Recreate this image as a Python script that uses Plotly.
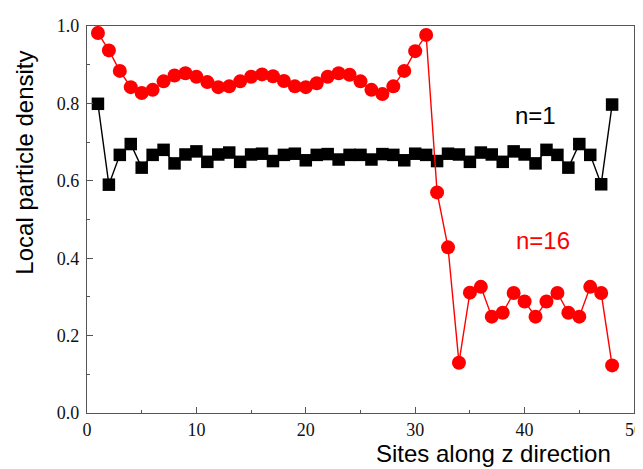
import plotly.graph_objects as go

sites = list(range(1, 49))

density_n1 = [0.799, 0.590, 0.667, 0.695, 0.634, 0.667, 0.680, 0.645, 0.668, 0.676,
              0.649, 0.668, 0.673, 0.649, 0.668, 0.670, 0.651, 0.667, 0.670, 0.653,
              0.667, 0.669, 0.655, 0.667, 0.667, 0.655, 0.669, 0.667, 0.653, 0.670,
              0.667, 0.651, 0.670, 0.668, 0.649, 0.673, 0.668, 0.649, 0.676, 0.668,
              0.645, 0.680, 0.667, 0.634, 0.695, 0.667, 0.591, 0.797]

density_n16 = [0.982, 0.937, 0.884, 0.842, 0.827, 0.835, 0.857, 0.872, 0.878, 0.869,
               0.855, 0.842, 0.844, 0.857, 0.869, 0.875, 0.870, 0.858, 0.844, 0.842,
               0.852, 0.869, 0.878, 0.874, 0.857, 0.835, 0.824, 0.844, 0.884, 0.935,
               0.977, 0.570, 0.428, 0.130, 0.311, 0.326, 0.249, 0.259, 0.310, 0.288,
               0.249, 0.288, 0.310, 0.259, 0.249, 0.326, 0.310, 0.123]

fig = go.Figure()
fig.add_trace(go.Scatter(
    x=sites, y=density_n1, mode="lines+markers", name="n=1",
    line=dict(color="black", width=1.4),
    marker=dict(symbol="square", size=12.5, color="black"),
))
fig.add_trace(go.Scatter(
    x=sites, y=density_n16, mode="lines+markers", name="n=16",
    line=dict(color="#ff0000", width=1.4),
    marker=dict(symbol="circle", size=14, color="#ff0000"),
))

axis_color = "#555555"
tick_font = dict(family="Liberation Serif", size=18, color="#111111")

fig.update_layout(
    width=643, height=469,
    margin=dict(l=79, r=8, t=12, b=64),
    paper_bgcolor="white", plot_bgcolor="white",
    showlegend=False,
    xaxis=dict(
        range=[0, 50], dtick=10, tick0=0,
        ticks="inside", ticklen=6, tickcolor=axis_color,
        minor=dict(ticks="inside", dtick=5, ticklen=3, tickcolor=axis_color),
        showline=True, linecolor=axis_color, linewidth=1.2, mirror=True,
        showgrid=False, zeroline=False, tickfont=tick_font,
    ),
    yaxis=dict(
        range=[0, 1.0], dtick=0.2, tick0=0, tickformat=".1f",
        ticks="inside", ticklen=6, tickcolor=axis_color,
        minor=dict(ticks="inside", dtick=0.1, ticklen=3, tickcolor=axis_color),
        showline=True, linecolor=axis_color, linewidth=1.2, mirror=True,
        showgrid=False, zeroline=False, tickfont=tick_font,
        ticklabelstandoff=3,
    ),
    annotations=[
        dict(text="Sites along z direction", xref="paper", yref="paper",
             x=0.743, y=-0.105, xanchor="center", yanchor="middle", showarrow=False,
             font=dict(family="Liberation Sans", size=24, color="black")),
        dict(text="Local particle density", xref="paper", yref="paper",
             x=-0.114, y=0.646, xanchor="center", yanchor="middle", showarrow=False,
             textangle=-90,
             font=dict(family="Liberation Sans", size=24, color="black")),
        dict(text="n=1", xref="x", yref="y", x=41.0, y=0.768,
             xanchor="center", yanchor="middle", showarrow=False,
             font=dict(family="Liberation Sans", size=24, color="black")),
        dict(text="n=16", xref="x", yref="y", x=41.7, y=0.445,
             xanchor="center", yanchor="middle", showarrow=False,
             font=dict(family="Liberation Sans", size=24, color="#ff0000")),
    ],
)

fig.write_html("out.html")
